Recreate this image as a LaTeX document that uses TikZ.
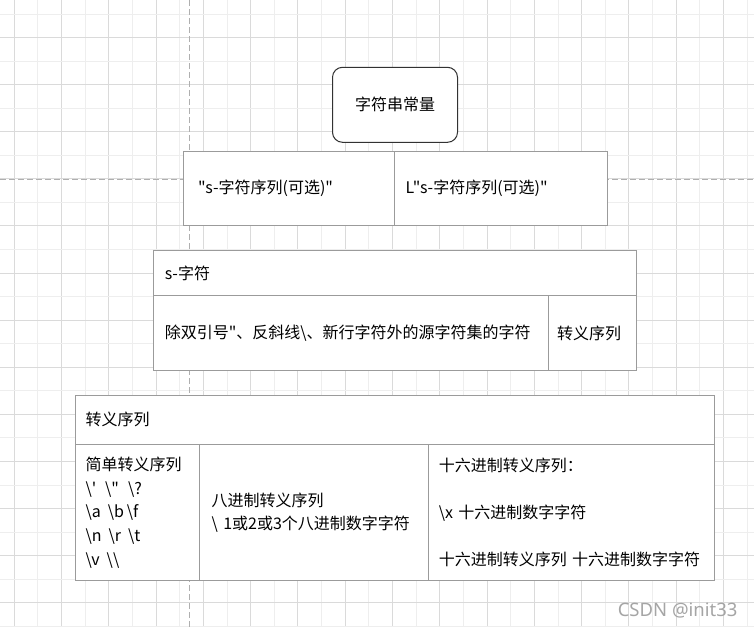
\documentclass[tikz,border=0pt]{standalone}
\usepackage{fontspec}
\newfontfamily\cjk{Noto Sans CJK SC}
\newfontfamily\wmfont{Noto Sans}

\definecolor{gridlight}{RGB}{238,238,238}
\definecolor{griddark}{RGB}{218,218,218}
\definecolor{breakgray}{RGB}{175,175,175}
\definecolor{boxgray}{RGB}{155,155,155}
\definecolor{boxdark}{RGB}{50,50,50}
\definecolor{markgray}{RGB}{165,165,165}

\begin{document}
\begin{tikzpicture}[
    x=1pt, y=-1pt,
    every node/.style={font=\cjk\fontsize{16pt}{23.6pt}\selectfont, text=black},
    grid light/.style={gridlight, line width=1pt},
    grid dark/.style={griddark, line width=1pt},
    page break/.style={breakgray, line width=1pt, dash pattern=on 6pt off 3pt},
    cell/.style={draw=boxgray, line width=1pt, fill=white, anchor=north west,
        inner xsep=11pt, inner ysep=0pt, align=left},
    title box/.style={draw=boxdark, line width=1pt, fill=white, rounded corners=10pt,
        minimum width=125pt, minimum height=75pt}
]
    \useasboundingbox (0,0) rectangle (754,627);
    \fill[white] (0,0) rectangle (754,627);

    % Grid
    \foreach \i in {0,...,31} {
        \pgfmathsetmacro{\gx}{14.3+23.64*\i}
        \ifodd\i \draw[grid light] (\gx,0) -- (\gx,627);
        \else \draw[grid dark] (\gx,0) -- (\gx,627); \fi
    }
    \foreach \j in {0,...,26} {
        \pgfmathsetmacro{\gy}{14+23.55*\j}
        \ifodd\j \draw[grid dark] (0,\gy) -- (754,\gy);
        \else \draw[grid light] (0,\gy) -- (754,\gy); \fi
    }

    % Page breaks
    \draw[page break] (189.3,0) -- (189.3,627);
    \draw[page break] (0,179.3) -- (754,179.3);

    % String literal
    \node[title box] (strconst) at (395,104.8) {字符串常量};

    % Prefix forms
    \node[cell, inner xsep=15pt, text width=181.5pt, minimum height=74.6pt] (plainseq)
        at (182.7,150.7) {"s-字符序列(可选)"};
    \node[cell, text width=191pt, minimum height=74.6pt] (wideseq)
        at (394.2,150.7) {L"s-字符序列(可选)"};

    % s-char
    \node[cell, text width=460.4pt, minimum height=45.6pt] (schar)
        at (153.3,249.7) {s-字符};
    \node[cell, text width=372.4pt, minimum height=74.7pt] (srcchar)
        at (153.3,295.3) {除双引号"、反斜线\textbackslash、新行字符外的源字符集的字符};
    \node[cell, inner xsep=9pt, text width=70pt, minimum height=74.7pt] (escitem)
        at (547.7,295.3) {转义序列};

    % Escape sequences
    \node[cell, inner xsep=10pt, text width=619pt, minimum height=49.8pt] (escseq)
        at (75,394.5) {转义序列};
    \node[cell, inner xsep=10pt, text width=104.2pt, minimum height=135.7pt] (simpleesc)
        at (75,444.3) {简单转义序列\\
        \textbackslash'\hspace{9pt}\textbackslash"\hspace{9pt}\textbackslash?\\
        \textbackslash a\hspace{7pt}\textbackslash b\hspace{3pt}\textbackslash f\\
        \textbackslash n\hspace{7pt}\textbackslash r\hspace{7pt}\textbackslash t\\
        \textbackslash v\hspace{7pt}\textbackslash\textbackslash};
    \node[cell, inner xsep=12pt, text width=204.5pt, minimum height=135.7pt] (octalesc)
        at (199.2,444.3) {八进制转义序列\\
        \textbackslash~1或2或3个八进制数字字符};
    \node[cell, inner xsep=10.6pt, text width=265pt, minimum height=135.7pt] (hexesc)
        at (427.7,444.3) {十六进制转义序列：\\[23.6pt]
        \textbackslash x 十六进制数字字符\\[23.6pt]
        十六进制转义序列~十六进制数字字符};

    % Watermark
    \node[font=\wmfont\fontsize{18.5pt}{20pt}\selectfont, text=markgray, anchor=east]
        (mark) at (741,610) {CSDN @init33};
\end{tikzpicture}
\end{document}
